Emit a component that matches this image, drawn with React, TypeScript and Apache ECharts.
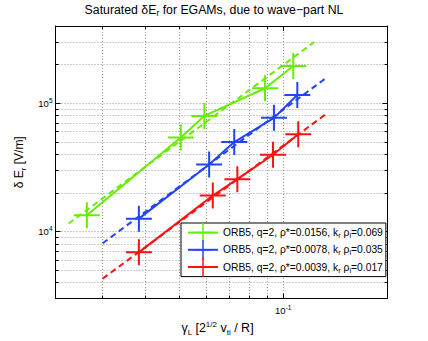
import { useEffect, useRef } from 'react';
import * as echarts from 'echarts';

const FONT = '"Liberation Sans", Arial, Helvetica, sans-serif';

// axis ranges
const xMin = 0.022;
const xMax = 0.2;
const yMin = 3000;
const yMax = 400000;

// legend / series labels
const rhoStar = ['0.0156', '0.0078', '0.0039'];
const krRhoI = ['0.069', '0.035', '0.017'];
const seriesColors = ['#66ee00', '#2244ff', '#ff1111'];

// measured points (gamma_L, deltaE_r)
const gammaGreen = [0.0271, 0.0506, 0.0592, 0.0886, 0.1069];
const eGreen = [13400, 54000, 79700, 130800, 194900];
const gammaBlue = [0.0383, 0.0611, 0.0722, 0.094, 0.1098];
const eBlue = [12600, 33300, 49800, 76900, 116100];
const gammaRed = [0.0383, 0.0626, 0.0737, 0.0934, 0.1105];
const eRed = [6880, 19100, 25600, 39700, 57300];

// dashed fits (end points)
const fitGammaGreen = [0.024, 0.1229];
const fitEGreen = [11540, 299900];
const fitGammaBlue = [0.0301, 0.1343];
const fitEBlue = [8100, 160500];
const fitGammaRed = [0.0301, 0.1334];
const fitERed = [4290, 83000];

const seriesNames = rhoStar.map((r, i) => `ORB5, q=2, ρ*=${r}, kr ρi=${krRhoI[i]}`);

const plusPath = 'path://M12,0h2v12h12v2h-12v12h-2v-12h-12v-2h12z';

function pow10Label(v: number): string {
  const e = Math.log10(v);
  const r = Math.round(e);
  if (Math.abs(e - r) > 1e-6) return '';
  return `{b|10}{s|${r}}`;
}

const tickRich = {
  b: { fontSize: 9.5, lineHeight: 13, fontFamily: FONT, color: '#000' },
  s: { fontSize: 6.5, lineHeight: 7, verticalAlign: 'top', fontFamily: FONT, color: '#000' },
};

const gridLine = { show: true, lineStyle: { color: '#9a9a9a', width: 1, type: [1, 2] } };
const axisLineBlack = { show: true, onZero: false, lineStyle: { color: '#000', width: 1 } };
const majorTick = { show: true, inside: true, length: 5, lineStyle: { color: '#000', width: 1 } };
const minorTick = { show: true, splitNumber: 9, length: 3, lineStyle: { color: '#000', width: 1 } };

function pairs(xs: number[], ys: number[]) {
  return xs.map((x, i) => [x, ys[i]]);
}

export default function App() {
  const ref = useRef<HTMLDivElement>(null);
  useEffect(() => {
    if (!ref.current) return;
    const chart = echarts.init(ref.current, null, { renderer: 'svg' });
    const pts = [
      pairs(gammaGreen, eGreen),
      pairs(gammaBlue, eBlue),
      pairs(gammaRed, eRed),
    ];
    const fits = [
      pairs(fitGammaGreen, fitEGreen),
      pairs(fitGammaBlue, fitEBlue),
      pairs(fitGammaRed, fitERed),
    ];
    const series: any[] = [];
    fits.forEach((d, i) => {
      series.push({
        type: 'line',
        data: d,
        symbol: 'none',
        silent: true,
        z: 2,
        lineStyle: { color: seriesColors[i], width: 2, type: [6, 4] },
      });
    });
    pts.forEach((d, i) => {
      series.push({
        type: 'line',
        name: seriesNames[i],
        data: d,
        symbol: plusPath,
        symbolSize: 26,
        showSymbol: true,
        z: 3,
        lineStyle: { color: seriesColors[i], width: 2 },
        itemStyle: { color: seriesColors[i] },
      });
    });

    const option: any = {
      animation: false,
      backgroundColor: '#fff',
      textStyle: { fontFamily: FONT },
      title: {
        text: 'Saturated δE{sub|r} for EGAMs, due to wave−part NL',
        left: 'center',
        top: 2,
        padding: [0, 0, 0, 16],
        textStyle: {
          fontSize: 12.3,
          fontWeight: 'normal',
          color: '#000',
          fontFamily: FONT,
          lineHeight: 15,
          rich: {
            sub: { fontSize: 8.5, lineHeight: 7, verticalAlign: 'bottom', fontFamily: FONT, color: '#000' },
          },
        },
      },
      grid: { left: 55.5, top: 26, width: 332, height: 277, show: false },
      legend: {
        data: seriesNames,
        orient: 'vertical',
        left: 181,
        top: 223,
        itemWidth: 30,
        itemHeight: 24,
        itemGap: -2,
        padding: [0, 3, 0, 6],
        backgroundColor: '#fff',
        borderColor: '#000',
        borderWidth: 1,
        borderRadius: 0,
        selectedMode: false,
        formatter: (name: string) => {
          const i = seriesNames.indexOf(name);
          return `ORB5, q=2, ρ*=${rhoStar[i]}, k{sub|r} ρ{sub|i}=${krRhoI[i]}`;
        },
        textStyle: {
          fontSize: 10.3,
          color: '#000',
          fontFamily: FONT,
          lineHeight: 14,
          rich: {
            sub: { fontSize: 7.5, lineHeight: 7, verticalAlign: 'bottom', fontFamily: FONT, color: '#000' },
          },
        },
      },
      xAxis: [
        {
          type: 'log',
          logBase: 10,
          min: xMin,
          max: xMax,
          position: 'bottom',
          axisLine: axisLineBlack,
          axisTick: majorTick,
          minorTick,
          splitLine: gridLine,
          minorSplitLine: gridLine,
          axisLabel: { formatter: pow10Label, rich: tickRich, margin: 5, color: '#000' },
          name: '{n|γ}{sub|L} {n|[2}{sup|1/2}{n| v}{sub|ti}{n| / R]}',
          nameLocation: 'middle',
          nameGap: 18,
          nameTextStyle: {
            padding: [0, 8, 0, 0],
            rich: {
              n: { fontSize: 12.5, lineHeight: 16, fontFamily: FONT, color: '#000' },
              sub: { fontSize: 8, lineHeight: 8, verticalAlign: 'bottom', fontFamily: FONT, color: '#000' },
              sup: { fontSize: 8, lineHeight: 8, verticalAlign: 'top', fontFamily: FONT, color: '#000' },
            },
          },
        },
        {
          type: 'log',
          logBase: 10,
          min: xMin,
          max: xMax,
          position: 'top',
          axisLine: axisLineBlack,
          axisTick: majorTick,
          minorTick,
          splitLine: { show: false },
          axisLabel: { show: false },
        },
      ],
      yAxis: [
        {
          type: 'log',
          logBase: 10,
          min: yMin,
          max: yMax,
          position: 'left',
          axisLine: axisLineBlack,
          axisTick: majorTick,
          minorTick,
          splitLine: gridLine,
          minorSplitLine: gridLine,
          axisLabel: { formatter: pow10Label, rich: tickRich, margin: 3, color: '#000' },
          name: '{n|δ E}{sub|r}{n| [V/m]}',
          nameLocation: 'middle',
          nameRotate: 90,
          nameGap: 22,
          nameTextStyle: {
            rich: {
              n: { fontSize: 12, lineHeight: 16, fontFamily: FONT, color: '#000' },
              sub: { fontSize: 8, lineHeight: 8, verticalAlign: 'bottom', fontFamily: FONT, color: '#000' },
            },
          },
        },
        {
          type: 'log',
          logBase: 10,
          min: yMin,
          max: yMax,
          position: 'right',
          axisLine: axisLineBlack,
          axisTick: majorTick,
          minorTick,
          splitLine: { show: false },
          axisLabel: { show: false },
        },
      ],
      series,
    };
    chart.setOption(option);
    return () => chart.dispose();
  }, []);
  return (
    <div
      ref={ref}
      style={{ position: 'fixed', left: 0, top: 0, width: 428, height: 341, background: '#fff' }}
    />
  );
}
